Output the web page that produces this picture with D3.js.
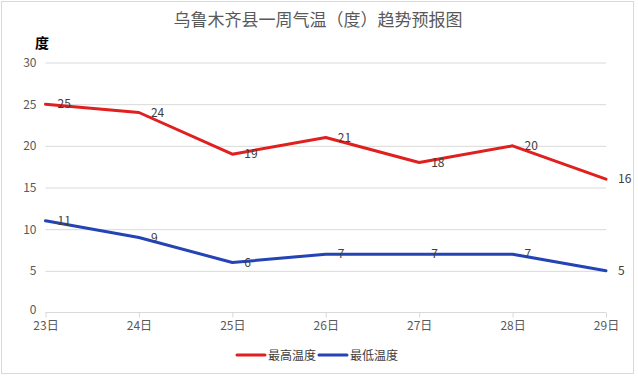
<!DOCTYPE html>
<html><head><meta charset="utf-8">
<script src="https://cdn.jsdelivr.net/npm/d3@7/dist/d3.min.js"></script>
<style>body{margin:0;background:#fff}svg{display:block;font-family:"Noto Sans CJK SC","Noto Sans",sans-serif}</style>
</head><body><svg id="c" width="638" height="376"></svg>
<script>
const categories = ["23日","24日","25日","26日","27日","28日","29日"];
const highTemps = [25,24,19,21,18,20,16];
const lowTemps = [11,9,6,7,7,7,5];
const yTicks = [0,5,10,15,20,25,30];
const seriesNames = ["最高温度","最低温度"];
const colors = ["#e01f1f","#2443b5"];

const svg = d3.select("#c");
svg.append("rect").attr("x",1.5).attr("y",1.5).attr("width",632).attr("height",372)
  .attr("fill","#fff").attr("stroke","#d9d9d9");

const x = d3.scalePoint().domain(categories).range([45.5,606]);
const y = d3.scaleLinear().domain([0,30]).range([312.5,62.5]);

svg.append("text").attr("x",318).attr("y",26).attr("text-anchor","middle")
  .attr("font-size",17).attr("fill","#595959").text("乌鲁木齐县一周气温（度）趋势预报图");
svg.append("text").attr("x",42).attr("y",48).attr("text-anchor","middle")
  .attr("font-size",14).attr("font-weight","bold").attr("fill","#000").text("度");

// grid
const yAxis = d3.axisLeft(y).tickValues(yTicks).tickSize(-(606-45.5)).tickPadding(9);
const gy = svg.append("g").attr("transform","translate(45.5,0)").call(yAxis);
gy.select(".domain").remove();
gy.selectAll(".tick line").attr("stroke","#d9d9d9");
gy.selectAll(".tick text").attr("fill","#595959").attr("font-size",12).attr("font-family","Noto Sans CJK SC, sans-serif");
gy.selectAll(".tick").filter(d=>d===0).select("line").remove();
gy.selectAll(".tick").filter(d=>d===0).select("text").attr("dy","0.1em");

const xAxis = d3.axisBottom(x).tickSize(5).tickPadding(4).tickSizeOuter(0);
const gx = svg.append("g").attr("transform","translate(0,312.5)").call(xAxis);
gx.select(".domain").attr("stroke","#d9d9d9").attr("d","M45.5,0H606");
gx.selectAll(".tick line").attr("stroke","#d9d9d9");
gx.selectAll(".tick text").attr("fill","#595959").attr("font-size",12).attr("font-family","Noto Sans CJK SC, sans-serif");

const line = d3.line().x((d,i)=>x(categories[i])).y(d=>y(d));
[highTemps,lowTemps].forEach((s,k)=>{
  svg.append("path").datum(s).attr("d",line).attr("fill","none")
    .attr("stroke",colors[k]).attr("stroke-width",3).attr("stroke-linejoin","round").attr("stroke-linecap","round");
  svg.selectAll(null).data(s).enter().append("text")
    .attr("x",(d,i)=>x(categories[i])+12).attr("y",d=>y(d)+4)
    .attr("font-size",12).attr("fill","#404040").text(d=>d);
});

// legend
const lg = [{x:237,c:colors[0],t:seriesNames[0]},{x:319,c:colors[1],t:seriesNames[1]}];
lg.forEach(l=>{
  svg.append("line").attr("x1",l.x).attr("x2",l.x+28).attr("y1",355).attr("y2",355)
    .attr("stroke",l.c).attr("stroke-width",3).attr("stroke-linecap","round");
  svg.append("text").attr("x",l.x+31).attr("y",359.5).attr("font-size",12).attr("fill","#404040").text(l.t);
});
</script></body></html>
